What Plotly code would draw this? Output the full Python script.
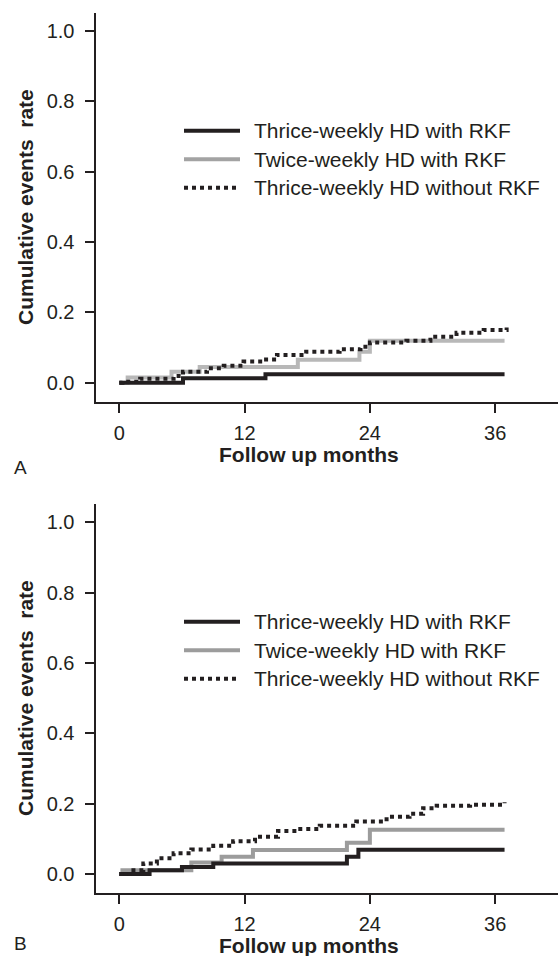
import plotly.graph_objects as go

# ---------------- data ----------------
months_ticks = [0, 12, 24, 36]
y_ticks = [0.0, 0.2, 0.4, 0.6, 0.8, 1.0]
y_tick_labels = ["0.0", "0.2", "0.4", "0.6", "0.8", "1.0"]

series_names = ["Thrice-weekly HD with RKF", "Twice-weekly HD with RKF", "Thrice-weekly HD without RKF"]

# Panel A
a_thrice_rkf_t = [0, 6.1, 14.0, 36.9]
a_thrice_rkf_y = [0.0, 0.013, 0.024, 0.024]
a_twice_rkf_t = [0, 0.8, 5.0, 7.7, 17.1, 23.0, 24.0, 36.9]
a_twice_rkf_y = [0.0, 0.015, 0.031, 0.045, 0.065, 0.088, 0.119, 0.119]
a_thrice_norkf_t = [0, 0.3, 2.0, 5.2, 6.1, 8.4, 10.0, 11.9, 13.8, 15.1, 17.9, 21.1, 23.1, 24.0, 27.5, 29.8, 32.3, 34.9, 37.1]
a_thrice_norkf_y = [0.0, 0.003, 0.011, 0.019, 0.031, 0.041, 0.048, 0.060, 0.066, 0.079, 0.088, 0.095, 0.102, 0.114, 0.119, 0.131, 0.142, 0.150, 0.157]

# Panel B
b_thrice_rkf_t = [0, 2.9, 6.0, 9.0, 21.8, 22.9, 36.9]
b_thrice_rkf_y = [0.0, 0.011, 0.020, 0.030, 0.049, 0.069, 0.069]
b_twice_rkf_t = [0, 0.3, 6.9, 9.8, 12.8, 21.8, 24.0, 36.9]
b_twice_rkf_y = [0.0, 0.011, 0.033, 0.049, 0.068, 0.089, 0.126, 0.126]
b_thrice_norkf_t = [0, 1.0, 2.3, 3.6, 5.2, 6.9, 9.0, 10.9, 13.0, 15.2, 17.0, 19.2, 22.7, 25.6, 27.8, 29.1, 30.4, 33.6, 36.9]
b_thrice_norkf_y = [0.0, 0.011, 0.030, 0.045, 0.059, 0.070, 0.080, 0.093, 0.106, 0.122, 0.128, 0.137, 0.149, 0.163, 0.171, 0.187, 0.194, 0.197, 0.204]

# ---------------- styling ----------------
W, H = 558, 956
DARK = "#231f20"
FONT = "Liberation Sans, Arial, sans-serif"

fig = go.Figure()

def px_y(p):
    return 1 - p / H

def add_panel(xa, ya, grey_col, twice_t, twice_y, thr_t, thr_y, no_t, no_y):
    fig.add_trace(go.Scatter(x=twice_t, y=twice_y, mode="lines", line=dict(shape="hv", color=grey_col, width=4),
                             name=series_names[1], showlegend=False, xaxis=xa, yaxis=ya))
    fig.add_trace(go.Scatter(x=thr_t, y=thr_y, mode="lines", line=dict(shape="hv", color=DARK, width=4),
                             name=series_names[0], showlegend=False, xaxis=xa, yaxis=ya))
    fig.add_trace(go.Scatter(x=no_t, y=no_y, mode="lines", line=dict(shape="hv", color=DARK, width=4, dash="dot"),
                             name=series_names[2], showlegend=False, xaxis=xa, yaxis=ya))

add_panel("x", "y", "#b8b8b8", a_twice_rkf_t, a_twice_rkf_y, a_thrice_rkf_t, a_thrice_rkf_y, a_thrice_norkf_t, a_thrice_norkf_y)
add_panel("x2", "y2", "#9c9c9c", b_twice_rkf_t, b_twice_rkf_y, b_thrice_rkf_t, b_thrice_rkf_y, b_thrice_norkf_t, b_thrice_norkf_y)

xdom = [95.5 / W, 1.0]
xrange_ = [-2.28, 42.02]
yrange_ = [-0.054, 1.052]

axis_common = dict(showline=True, linecolor=DARK, linewidth=2, ticks="outside", ticklen=9, tickwidth=2,
                   tickcolor=DARK, showgrid=False, zeroline=False,
                   tickfont=dict(family=FONT, size=20, color=DARK))

fig.update_layout(
    width=W, height=H, margin=dict(l=0, r=0, t=0, b=0),
    paper_bgcolor="white", plot_bgcolor="white",
    xaxis=dict(domain=xdom, range=xrange_, anchor="y", tickvals=months_ticks, ticklabelstandoff=3, **axis_common),
    yaxis=dict(domain=[px_y(401.7), px_y(12.7)], range=yrange_, anchor="x", tickvals=y_ticks,
               ticktext=y_tick_labels, ticklabelstandoff=6, **axis_common),
    xaxis2=dict(domain=xdom, range=xrange_, anchor="y2", tickvals=months_ticks, ticklabelstandoff=3, **axis_common),
    yaxis2=dict(domain=[px_y(893), px_y(504)], range=yrange_, anchor="x2", tickvals=y_ticks,
                ticktext=y_tick_labels, ticklabelstandoff=6, **axis_common),
)

annotations = []
shapes = []
for off, grey_leg, lab, lab_y in [(0, "#a3a3a3", "A", 467), (491, "#9c9c9c", "B", 943)]:
    # axis titles
    annotations.append(dict(text="<b>Follow up months</b>", x=309 / W, y=px_y(454 + off), xref="paper", yref="paper",
                            xanchor="center", yanchor="middle", showarrow=False,
                            font=dict(family=FONT, size=21, color=DARK)))
    annotations.append(dict(text="<b>Cumulative events\u00a0 rate</b>", x=25 / W, y=px_y(207 + off), xref="paper",
                            yref="paper", xanchor="center", yanchor="middle", textangle=-90, showarrow=False,
                            font=dict(family=FONT, size=21, color=DARK)))
    annotations.append(dict(text=lab, x=20.7 / W, y=px_y(lab_y), xref="paper", yref="paper",
                            xanchor="center", yanchor="middle", showarrow=False, borderpad=0,
                            font=dict(family=FONT, size=19, color=DARK)))
    # legend
    rows = [130.7, 159.3, 187.7]
    styles = [dict(color=DARK, width=4), dict(color=grey_leg, width=4), dict(color=DARK, width=4, dash="dot")]
    for name, ry, st in zip(series_names, rows, styles):
        shapes.append(dict(type="line", xref="paper", yref="paper", x0=184 / W, x1=240 / W,
                           y0=px_y(ry + off), y1=px_y(ry + off), line=st))
        annotations.append(dict(text=name, x=252 / W, y=px_y(ry + off), xref="paper", yref="paper",
                                xanchor="left", yanchor="middle", showarrow=False,
                                font=dict(family=FONT, size=21, color=DARK)))

fig.update_layout(annotations=annotations, shapes=shapes)
fig.write_html("out.html", config={"displayModeBar": False},
               post_script="document.body.style.margin='0';document.body.style.overflow='hidden';")
